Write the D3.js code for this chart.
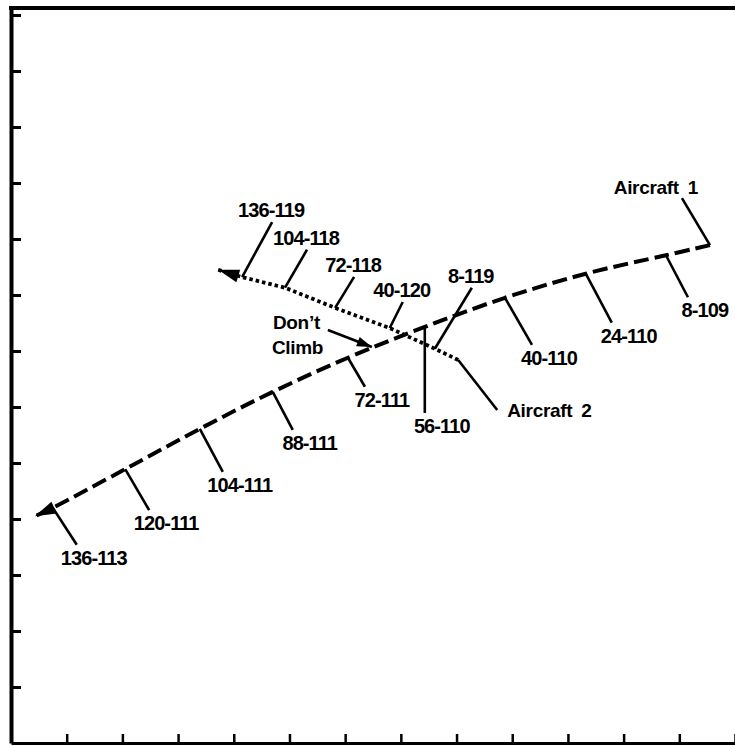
<!DOCTYPE html>
<html>
<head>
<meta charset="utf-8">
<script src="https://cdn.jsdelivr.net/npm/d3@7/dist/d3.min.js"></script>
<style>
body { margin: 0; background: #fff; }
text { font-family: "Liberation Sans", Arial, sans-serif; font-weight: bold; fill: #000; }
</style>
</head>
<body>
<script>
// positions in grid units (13 divisions across, 13 up)
var a1Labels = ["8-109", "24-110", "40-110", "56-110", "72-111", "88-111", "104-111", "120-111", "136-113"];
var a1X = [11.76, 10.32, 8.87, 7.43, 6.05, 4.70, 3.39, 2.05, 0.75];
var a1Y = [8.71, 8.38, 7.95, 7.43, 6.88, 6.27, 5.61, 4.89, 4.20];
var a1Start = [12.55, 8.89];
var a1Tip = [0.43, 4.05];

var a2Labels = ["8-119", "40-120", "72-118", "104-118", "136-119"];
var a2X = [7.61, 6.80, 5.82, 4.92, 4.15];
var a2Y = [7.04, 7.41, 7.77, 8.13, 8.32];
var a2Start = [8.03, 6.84];
var a2Tip = [3.72, 8.45];

var climbFrom = [5.69, 7.375];
var climbTo = [6.48, 7.07];

var xTicks = d3.range(1, 14);
var yTicks = d3.range(1, 14);

// leader line offsets (px)
var a1Lead = [[22,42],[26,49],[27,47],[0,86],[17,29],[20,38],[23,43],[24,41],[24,37]];
var a2Lead = [[37,-61],[13,-26],[19,-31],[22,-38],[30,-55]];

var width = 735, height = 746;

var svg = d3.select("body").append("svg")
    .attr("width", width)
    .attr("height", height);

var x = d3.scaleLinear().domain([0, 13]).range([11, 735]);
var y = d3.scaleLinear().domain([0, 13.125]).range([743, 8]);

var defs = svg.append("defs");
defs.append("marker")
    .attr("id", "bigArrow")
    .attr("viewBox", "-22 -8 24 16")
    .attr("refX", 0).attr("refY", 0)
    .attr("markerWidth", 24).attr("markerHeight", 16)
    .attr("markerUnits", "userSpaceOnUse")
    .attr("orient", "auto")
  .append("path")
    .attr("d", "M-21,-6.5L0,0L-21,6.5Z")
    .attr("fill", "#000");
defs.append("marker")
    .attr("id", "smallArrow")
    .attr("viewBox", "-16 -6 18 12")
    .attr("refX", 0).attr("refY", 0)
    .attr("markerWidth", 18).attr("markerHeight", 12)
    .attr("markerUnits", "userSpaceOnUse")
    .attr("orient", "auto")
  .append("path")
    .attr("d", "M-15,-5L0,0L-15,5Z")
    .attr("fill", "#000");

// frame
svg.append("line")
    .attr("x1", 9).attr("x2", 735)
    .attr("y1", 8).attr("y2", 8)
    .attr("stroke", "#000").attr("stroke-width", 4);

var xAxis = d3.axisBottom(x).tickValues(xTicks).tickSizeInner(-9).tickSizeOuter(0).tickFormat("");
var yAxis = d3.axisLeft(y).tickValues(yTicks).tickSizeInner(-10).tickSizeOuter(0).tickFormat("");

var gx = svg.append("g").attr("transform", "translate(0,743)").call(xAxis);
gx.select(".domain").attr("stroke-width", 3);
gx.selectAll(".tick line").attr("stroke-width", 2.5);

var gy = svg.append("g").attr("transform", "translate(11,0)").call(yAxis);
gy.select(".domain").attr("stroke-width", 4);
gy.selectAll(".tick line").attr("stroke-width", 3);

// aircraft 1 track
var pts1 = [a1Start].concat(a1X.map((d, i) => [d, a1Y[i]])).concat([a1Tip]);
var line1 = d3.line().x(d => x(d[0])).y(d => y(d[1])).curve(d3.curveCatmullRom);

svg.append("path")
    .attr("d", line1(pts1))
    .attr("fill", "none")
    .attr("stroke", "#000")
    .attr("stroke-width", 4)
    .attr("stroke-dasharray", "15,6")
    .attr("marker-end", "url(#bigArrow)");

// aircraft 2 track
var pts2 = [a2Start].concat(a2X.map((d, i) => [d, a2Y[i]])).concat([a2Tip]);
var line2 = d3.line().x(d => x(d[0])).y(d => y(d[1]));

svg.append("path")
    .attr("d", line2(pts2))
    .attr("fill", "none")
    .attr("stroke", "#000")
    .attr("stroke-width", 3.8)
    .attr("stroke-dasharray", "3.5,3")
    .attr("marker-end", "url(#bigArrow)");

// tick leaders and labels, aircraft 1
var g1 = svg.append("g").selectAll("g")
    .data(a1Labels)
    .join("g");
g1.append("line")
    .attr("x1", (d, i) => x(a1X[i]))
    .attr("y1", (d, i) => y(a1Y[i]))
    .attr("x2", (d, i) => x(a1X[i]) + a1Lead[i][0])
    .attr("y2", (d, i) => y(a1Y[i]) + a1Lead[i][1])
    .attr("stroke", "#000").attr("stroke-width", 2.6);
g1.append("text")
    .attr("x", (d, i) => x(a1X[i]) + a1Lead[i][0] + 17)
    .attr("y", (d, i) => y(a1Y[i]) + a1Lead[i][1] + 13)
    .attr("dy", "0.35em")
    .attr("text-anchor", "middle")
    .attr("font-size", 20)
    .attr("letter-spacing", -0.9)
    .text(d => d);

// tick leaders and labels, aircraft 2
var g2 = svg.append("g").selectAll("g")
    .data(a2Labels)
    .join("g");
g2.append("line")
    .attr("x1", (d, i) => x(a2X[i]))
    .attr("y1", (d, i) => y(a2Y[i]))
    .attr("x2", (d, i) => x(a2X[i]) + a2Lead[i][0])
    .attr("y2", (d, i) => y(a2Y[i]) + a2Lead[i][1])
    .attr("stroke", "#000").attr("stroke-width", 2.6);
g2.append("text")
    .attr("x", (d, i) => x(a2X[i]) + a2Lead[i][0] - 1)
    .attr("y", (d, i) => y(a2Y[i]) + a2Lead[i][1] - 12)
    .attr("dy", "0.35em")
    .attr("text-anchor", "middle")
    .attr("font-size", 20)
    .attr("letter-spacing", -0.9)
    .text(d => d);

// aircraft name callouts
svg.append("line")
    .attr("x1", x(a1Start[0])).attr("y1", y(a1Start[1]))
    .attr("x2", x(a1Start[0]) - 28).attr("y2", y(a1Start[1]) - 47)
    .attr("stroke", "#000").attr("stroke-width", 2.6);
svg.append("text")
    .attr("x", x(a1Start[0]) - 54).attr("y", y(a1Start[1]) - 58)
    .attr("dy", "0.35em")
    .attr("text-anchor", "middle")
    .attr("font-size", 19)
    .attr("letter-spacing", -0.3)
    .attr("word-spacing", 4)
    .text("Aircraft 1");

svg.append("line")
    .attr("x1", x(a2Start[0])).attr("y1", y(a2Start[1]))
    .attr("x2", x(a2Start[0]) + 39).attr("y2", y(a2Start[1]) + 50)
    .attr("stroke", "#000").attr("stroke-width", 2.6);
svg.append("text")
    .attr("x", x(a2Start[0]) + 49).attr("y", y(a2Start[1]) + 50)
    .attr("dy", "0.35em")
    .attr("font-size", 19)
    .attr("letter-spacing", -0.3)
    .attr("word-spacing", 4)
    .text("Aircraft 2");

// "Don't Climb" pointer
svg.append("line")
    .attr("x1", x(climbFrom[0])).attr("y1", y(climbFrom[1]))
    .attr("x2", x(climbTo[0])).attr("y2", y(climbTo[1]))
    .attr("stroke", "#000").attr("stroke-width", 2.6)
    .attr("marker-end", "url(#smallArrow)");
svg.append("text")
    .attr("x", x(climbFrom[0]) - 55).attr("y", y(climbFrom[1]) - 8)
    .attr("dy", "0.35em")
    .attr("font-size", 19)
    .attr("letter-spacing", -0.3)
    .text("Don\u2019t");
svg.append("text")
    .attr("x", x(climbFrom[0]) - 56).attr("y", y(climbFrom[1]) + 17)
    .attr("dy", "0.35em")
    .attr("font-size", 19)
    .attr("letter-spacing", -0.3)
    .text("Climb");
</script>
</body>
</html>
